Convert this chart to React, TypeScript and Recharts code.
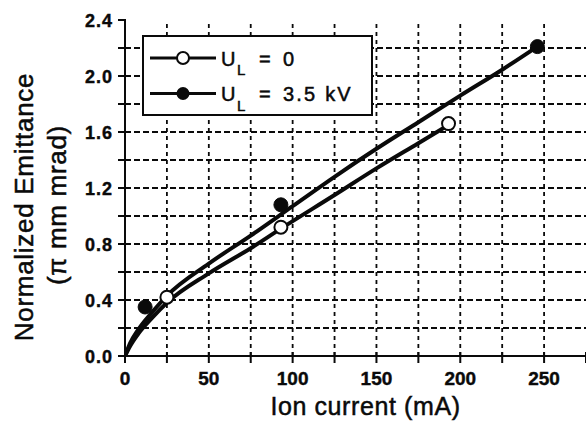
import React from "react";
import {
  ComposedChart,
  Line,
  Scatter,
  XAxis,
  YAxis,
  ReferenceLine,
  Legend,
  Label,
} from "recharts";

// Measured emittance points
const openPoints = [
  { x: 25, y: 0.42 },
  { x: 93, y: 0.92 },
  { x: 193, y: 1.66 },
];
const filledPoints = [
  { x: 12, y: 0.35 },
  { x: 93, y: 1.08 },
  { x: 246, y: 2.21 },
];

// Fitted curves through each data set
const fitOpen = [
  { x: 0, y: 0 },
  { x: 3, y: 0.07 },
  { x: 8, y: 0.16 },
  { x: 16, y: 0.27 },
  { x: 25, y: 0.38 },
  { x: 50, y: 0.59 },
  { x: 75, y: 0.77 },
  { x: 93, y: 0.91 },
  { x: 125, y: 1.15 },
  { x: 150, y: 1.34 },
  { x: 175, y: 1.52 },
  { x: 193, y: 1.65 },
];
const fitFilled = [
  { x: 0, y: 0 },
  { x: 3, y: 0.09 },
  { x: 8, y: 0.19 },
  { x: 16, y: 0.31 },
  { x: 25, y: 0.43 },
  { x: 50, y: 0.66 },
  { x: 75, y: 0.86 },
  { x: 100, y: 1.07 },
  { x: 125, y: 1.28 },
  { x: 150, y: 1.48 },
  { x: 175, y: 1.67 },
  { x: 200, y: 1.86 },
  { x: 225, y: 2.045 },
  { x: 246, y: 2.21 },
];

const xTicks = [0, 25, 50, 75, 100, 125, 150, 175, 200, 225, 250, 275];
const yTicks = [0, 0.2, 0.4, 0.6, 0.8, 1.0, 1.2, 1.4, 1.6, 1.8, 2.0, 2.2, 2.4];
const xGrid = [25, 50, 75, 100, 125, 150, 175, 200, 225, 250];
const yGrid = [0.2, 0.4, 0.6, 0.8, 1.0, 1.2, 1.4, 1.6, 1.8, 2.0, 2.2];

const legendItems = [
  { sub: "L", value: "0", filled: false },
  { sub: "L", value: "3.5 kV", filled: true },
];

const FONT = "'Liberation Sans', Arial, Helvetica, sans-serif";
const INK = "#0a0a0a";

const XTick = (props: any) => {
  const { x, y, payload } = props;
  const v = payload.value as number;
  const labelled = v % 50 === 0;
  return (
    <g>
      <line x1={x} x2={x} y1={y - 4} y2={y + 7} stroke={INK} strokeWidth={2} />
      {labelled && (
        <text
          x={x}
          y={y + 29}
          textAnchor="middle"
          fontFamily={FONT}
          fontWeight="bold"
          fontSize={19}
          fill={INK}
          stroke={INK}
          strokeWidth={0.4}
        >
          {v}
        </text>
      )}
    </g>
  );
};

const YTick = (props: any) => {
  const { x, y, payload } = props;
  const v = payload.value as number;
  const labelled = Math.round(v * 10) % 4 === 0;
  return (
    <g>
      <line x1={x - 7} x2={x + 1} y1={y} y2={y} stroke={INK} strokeWidth={2} />
      {labelled && (
        <text
          x={x - 12}
          y={y + 6.5}
          textAnchor="end"
          fontFamily={FONT}
          fontWeight="bold"
          fontSize={18}
          letterSpacing={1}
          fill={INK}
          stroke={INK}
          strokeWidth={0.4}
        >
          {v.toFixed(1)}
        </text>
      )}
    </g>
  );
};

const XTitle = (props: any) => {
  const vb = props.viewBox;
  return (
    <text
      x={vb.x + vb.width / 2 + 10}
      y={vb.y + 59}
      textAnchor="middle"
      fontFamily={FONT}
      fontSize={25}
      letterSpacing={0.6}
      fill={INK}
      stroke={INK}
      strokeWidth={0.5}
    >
      Ion current (mA)
    </text>
  );
};

const YTitle = (props: any) => {
  const vb = props.viewBox;
  const cy = vb.y + vb.height / 2 + 19;
  return (
    <g
      fontFamily={FONT}
      fontSize={26}
      fill={INK}
      stroke={INK}
      strokeWidth={0.5}
      textAnchor="middle"
    >
      <text transform={`translate(33, ${cy}) rotate(-90)`} letterSpacing={0.7}>
        Normalized Emittance
      </text>
      <text transform={`translate(66, ${cy - 2}) rotate(-90)`} letterSpacing={0.7}>
        (π mm mrad)
      </text>
    </g>
  );
};

const OpenDot = (props: any) => (
  <circle cx={props.cx} cy={props.cy} r={6.5} fill="#fff" stroke={INK} strokeWidth={2} />
);
const FilledDot = (props: any) => (
  <circle cx={props.cx} cy={props.cy} r={7} fill={INK} stroke={INK} strokeWidth={1} />
);

const LegendBox = () => (
  <svg width={232} height={82} style={{ display: "block" }}>
    <rect x={1} y={1} width={229} height={79} fill="#fff" stroke={INK} strokeWidth={2} />
    {legendItems.map((item, i) => {
      const cy = 23 + i * 35.5;
      return (
        <g key={i}>
          <line x1={8} x2={74} y1={cy} y2={cy} stroke={INK} strokeWidth={3} />
          {item.filled ? (
            <circle cx={41} cy={cy} r={6.5} fill={INK} />
          ) : (
            <circle cx={41} cy={cy} r={6} fill="#fff" stroke={INK} strokeWidth={2} />
          )}
          <g fontFamily={FONT} fill={INK} stroke={INK} strokeWidth={0.5}>
            <text x={79} y={cy + 7.5} fontSize={20}>
              U
            </text>
            <text x={95} y={cy + 17} fontSize={15}>
              {item.sub}
            </text>
            <text x={117} y={cy + 7.5} fontSize={20}>
              =
            </text>
            <text x={141} y={cy + 7.5} fontSize={20} letterSpacing={item.value.length > 1 ? 2.2 : 0}>
              {item.value}
            </text>
          </g>
        </g>
      );
    })}
  </svg>
);

export default function App() {
  return (
    <div style={{ position: "absolute", left: 0, top: 0, background: "#fff" }}>
      <ComposedChart
        width={586}
        height={424}
        margin={{ top: 20, right: 0, bottom: 0, left: 0 }}
      >
        {yGrid.map((v) => (
          <ReferenceLine
            key={`h${v}`}
            y={v}
            stroke={INK}
            strokeWidth={1.8}
            strokeDasharray="6 3"
          />
        ))}
        {xGrid.map((v) => (
          <ReferenceLine
            key={`v${v}`}
            x={v}
            stroke={INK}
            strokeWidth={1.8}
            strokeDasharray="4 4"
          />
        ))}
        <XAxis
          type="number"
          dataKey="x"
          domain={[0, 275]}
          ticks={xTicks}
          interval={0}
          height={68}
          tickSize={0}
          tickMargin={0}
          tickLine={false}
          tick={XTick}
          axisLine={{ stroke: INK, strokeWidth: 2 }}
          allowDataOverflow
        >
          <Label content={XTitle} />
        </XAxis>
        <YAxis
          type="number"
          dataKey="y"
          domain={[0, 2.4]}
          ticks={yTicks}
          interval={0}
          width={125}
          tickSize={0}
          tickMargin={0}
          tickLine={false}
          tick={YTick}
          axisLine={{ stroke: INK, strokeWidth: 2 }}
          allowDataOverflow
        >
          <Label content={YTitle} />
        </YAxis>
        <Line
          data={fitOpen}
          dataKey="y"
          type="monotone"
          stroke={INK}
          strokeWidth={4}
          dot={false}
          activeDot={false}
          isAnimationActive={false}
          legendType="none"
        />
        <Line
          data={fitFilled}
          dataKey="y"
          type="monotone"
          stroke={INK}
          strokeWidth={4}
          dot={false}
          activeDot={false}
          isAnimationActive={false}
          legendType="none"
        />
        <Scatter
          data={openPoints}
          dataKey="y"
          shape={OpenDot}
          isAnimationActive={false}
          legendType="none"
        />
        <Scatter
          data={filledPoints}
          dataKey="y"
          shape={FilledDot}
          isAnimationActive={false}
          legendType="none"
        />
        <Legend
          layout="horizontal"
          verticalAlign="middle"
          align="center"
          content={LegendBox}
          wrapperStyle={{ left: 142, top: 35, width: 232, height: 82 }}
        />
      </ComposedChart>
    </div>
  );
}
